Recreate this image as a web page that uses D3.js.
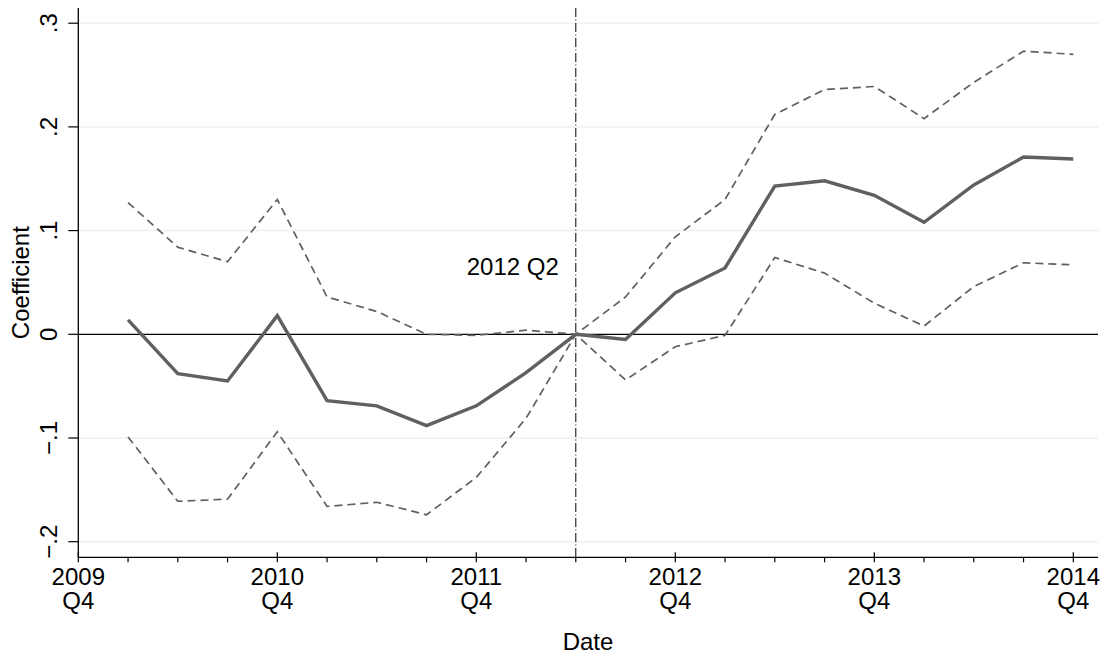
<!DOCTYPE html>
<html>
<head>
<meta charset="utf-8">
<script src="https://cdn.jsdelivr.net/npm/d3@7"></script>
<style>
  html, body { margin: 0; padding: 0; background: #fff; }
  svg text { font-family: Arial, "Liberation Sans", Helvetica, sans-serif; fill: #000; }
</style>
</head>
<body>
<div id="chart"></div>
<script>
"use strict";
// quarters since 2009Q4 (1 = 2010Q1 ... 20 = 2014Q4)
const quarterIdx = d3.range(1, 21);
const coef  = [0.014, -0.038, -0.045, 0.018, -0.064, -0.069, -0.088, -0.069, -0.037, 0.000,
               -0.005, 0.040, 0.064, 0.143, 0.148, 0.134, 0.108, 0.144, 0.171, 0.169];
const upper = [0.127, 0.084, 0.070, 0.130, 0.036, 0.022, 0.000, -0.001, 0.004, 0.000,
               0.036, 0.094, 0.130, 0.212, 0.236, 0.239, 0.208, 0.243, 0.273, 0.270];
const lower = [-0.099, -0.161, -0.159, -0.094, -0.166, -0.162, -0.174, -0.138, -0.081, 0.000,
               -0.044, -0.012, -0.001, 0.074, 0.059, 0.030, 0.008, 0.046, 0.069, 0.067];
const xMajorTicks = [0, 4, 8, 12, 16, 20];
const xTickLabels = [["2009", "Q4"], ["2010", "Q4"], ["2011", "Q4"], ["2012", "Q4"], ["2013", "Q4"], ["2014", "Q4"]];
const yTicks = [-0.2, -0.1, 0, 0.1, 0.2, 0.3];
const yTickLabels = ["\u2212.2", "\u2212.1", "0", ".1", ".2", ".3"];
const eventIdx = 10; // 2012 Q2
const eventLabel = "2012 Q2";

const width = 1106, height = 656;
const plotLeft = 78.3, plotBottom = 557.3, plotTop = 8, plotRight = 1098;
const fontSize = '24px';

const svg = d3.select('#chart')
    .append('svg')
    .attr('width', width)
    .attr('height', height)
    .style('background', '#fff');

const x = d3.scaleLinear().domain([0, 20]).range([plotLeft, 1073.3]);
const y = d3.scaleLinear().domain([-0.2, 0.3]).range([541.7, 23.2]);

// gridlines
svg.append('g')
    .selectAll('line')
    .data(yTicks.filter(d => d !== 0))
    .enter()
    .append('line')
    .attr('x1', plotLeft).attr('x2', plotRight)
    .attr('y1', d => y(d)).attr('y2', d => y(d))
    .style('stroke', '#eaf2f3')
    .style('stroke-width', 1.5);

// zero line
svg.append('line')
    .attr('x1', plotLeft).attr('x2', plotRight)
    .attr('y1', y(0)).attr('y2', y(0))
    .style('stroke', '#000')
    .style('stroke-width', 1.2);

// event line
svg.append('line')
    .attr('x1', x(eventIdx)).attr('x2', x(eventIdx))
    .attr('y1', plotTop).attr('y2', plotBottom)
    .style('stroke', '#000')
    .style('stroke-width', 1)
    .style('stroke-dasharray', '9,2.5,1,2.5');

svg.append('text')
    .attr('x', x(eventIdx) - 17)
    .attr('y', 275)
    .attr('text-anchor', 'end')
    .style('font-size', fontSize)
    .text(eventLabel);

// series
const line = d3.line()
    .x((d, i) => x(quarterIdx[i]))
    .y(d => y(d));

[upper, lower].forEach(function (s) {
    svg.append('path')
        .datum(s)
        .attr('d', line)
        .style('fill', 'none')
        .style('stroke', '#606060')
        .style('stroke-width', 1.7)
        .style('stroke-dasharray', '8,5');
});

svg.append('path')
    .datum(coef)
    .attr('d', line)
    .style('fill', 'none')
    .style('stroke', '#606060')
    .style('stroke-width', 3.4)
    .style('stroke-linejoin', 'miter');

// axes lines
svg.append('line')
    .attr('x1', plotLeft).attr('x2', plotLeft)
    .attr('y1', plotTop).attr('y2', plotBottom)
    .style('stroke', '#000').style('stroke-width', 1.3);
svg.append('line')
    .attr('x1', plotLeft - 0.6).attr('x2', plotRight)
    .attr('y1', plotBottom).attr('y2', plotBottom)
    .style('stroke', '#000').style('stroke-width', 1.3);

// y ticks + labels
const yAxis = svg.append('g');
yAxis.selectAll('line')
    .data(yTicks)
    .enter()
    .append('line')
    .attr('x1', plotLeft - 10).attr('x2', plotLeft)
    .attr('y1', d => y(d)).attr('y2', d => y(d))
    .style('stroke', '#000').style('stroke-width', 1.2);
yAxis.selectAll('text')
    .data(yTicks)
    .enter()
    .append('text')
    .attr('transform', d => 'translate(57,' + y(d) + ') rotate(-90)')
    .attr('text-anchor', 'middle')
    .style('font-size', fontSize)
    .text((d, i) => yTickLabels[i]);

svg.append('text')
    .attr('transform', 'translate(29,' + ((plotTop + plotBottom) / 2) + ') rotate(-90)')
    .attr('text-anchor', 'middle')
    .style('font-size', fontSize)
    .text('Coefficient');

// x ticks: minor every quarter, major at Q4
const xAxis = svg.append('g');
xAxis.selectAll('line.minor')
    .data(d3.range(0, 21).filter(d => xMajorTicks.indexOf(d) < 0))
    .enter()
    .append('line')
    .attr('class', 'minor')
    .attr('x1', d => x(d)).attr('x2', d => x(d))
    .attr('y1', plotBottom).attr('y2', plotBottom + 5)
    .style('stroke', '#000').style('stroke-width', 1.2);
xAxis.selectAll('line.major')
    .data(xMajorTicks)
    .enter()
    .append('line')
    .attr('class', 'major')
    .attr('x1', d => x(d)).attr('x2', d => x(d))
    .attr('y1', plotBottom - 5).attr('y2', plotBottom + 5)
    .style('stroke', '#000').style('stroke-width', 1.2);

const xl = xAxis.selectAll('text')
    .data(xMajorTicks)
    .enter()
    .append('text')
    .attr('text-anchor', 'middle')
    .style('font-size', fontSize);
xl.append('tspan')
    .attr('x', d => x(d))
    .attr('y', 585)
    .text((d, i) => xTickLabels[i][0]);
xl.append('tspan')
    .attr('x', d => x(d))
    .attr('y', 609)
    .text((d, i) => xTickLabels[i][1]);

svg.append('text')
    .attr('x', 588)
    .attr('y', 650)
    .attr('text-anchor', 'middle')
    .style('font-size', fontSize)
    .text('Date');
</script>
</body>
</html>
